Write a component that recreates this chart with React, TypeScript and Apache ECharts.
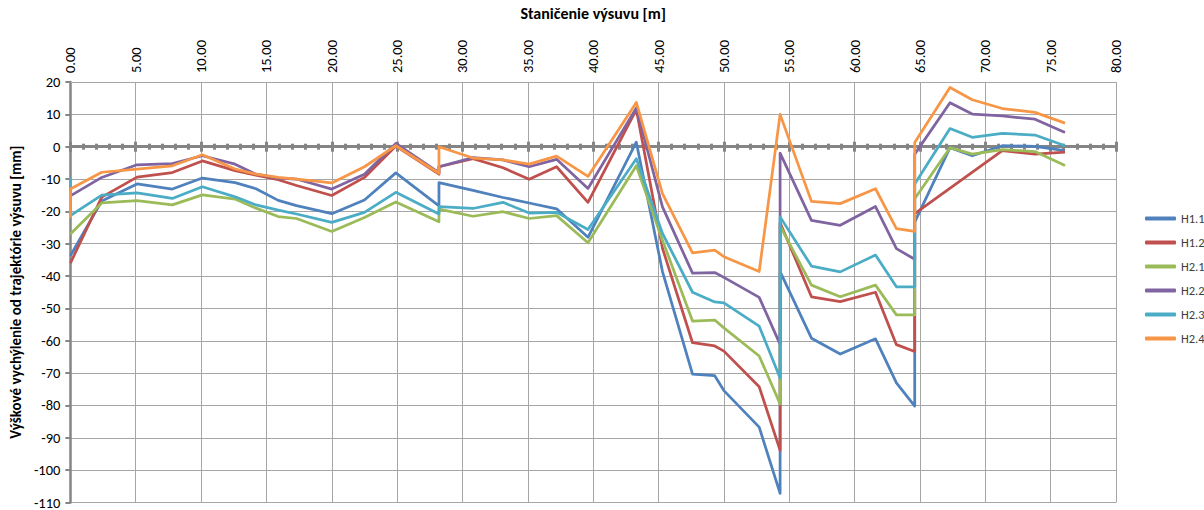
import React, { useEffect, useRef } from "react";
import * as echarts from "echarts";

// Stations along the launch [m] (duplicates = two readings at the same station)
const stations = [
  0, 0, 2.4, 5.1, 7.8, 10.1, 12.6, 14.2, 15.9, 17.3, 20, 22.5, 24.9, 28.2, 28.2,
  30.8, 33.1, 35.1, 37.2, 39.6, 43.3, 45.3, 47.6, 49.3, 50.0, 52.7, 54.3, 54.3,
  56.7, 58.9, 61.6, 63.2, 64.6, 64.6, 67.3, 69.0, 71.3, 73.8, 76.1,
];

const h11 = [
  -33.7, -33.7, -16.8, -11.5, -13.1, -9.7, -11.1, -13, -16.6, -18.2, -20.7, -16.5, -8.1, -18.3, -11.1,
  -13.5, -15.7, -17.4, -19.2, -28, 1.4, -38.6, -70.3, -70.8, -75.4, -86.7, -107.2, -38.6,
  -59.2, -64.1, -59.4, -73, -80.2, -23.3, -0.3, -2.8, 0.3, 0.1, -1.2,
];
const h12: (number | null)[] = [
  -36, -36, -15.6, -9.4, -8, -4.4, -7.4, -8.8, -10.2, -12, -15.1, -9.5, 0.2, -8.5, -6.2,
  -3.7, -6.5, -10.1, -6.2, -17.2, 11.5, -31.4, -60.6, -61.6, -63.2, -74.2, -93.9, -23.5,
  -46.4, -47.9, -45, -61.2, -63.3, -20.7, null, null, -1.2, -2.3, -1.7,
];
const h21 = [
  -27, -27, -17.4, -16.7, -18, -14.9, -16.2, -19, -21.6, -22.2, -26.2, -21.9, -17.1, -23.2, -19.3,
  -21.5, -20.1, -22.2, -21.3, -29.7, -5.9, -28.9, -53.9, -53.6, -56, -64.7, -79.5, -24.5,
  -42.8, -46.4, -42.8, -52, -52, -16.1, -0.3, -2.3, -0.9, -1.5, -5.8,
];
const h22 = [
  -15.2, -15.2, -9.5, -5.6, -5.2, -2.8, -5.4, -8.5, -9.7, -10, -13.1, -8.5, 1, -8, -6.2,
  -3.4, -4.1, -6.2, -3.9, -12.9, 12, -18.6, -39.1, -38.9, -40.4, -46.6, -61.1, -2,
  -22.8, -24.3, -18.5, -31.5, -34.8, -2.3, 13.6, 10.1, 9.5, 8.5, 4.4,
];
const h23 = [
  -9.5, -21.3, -15, -14.3, -16, -12.4, -15.5, -18, -19.6, -20.8, -23.4, -20.3, -14.1, -20.8, -18.5,
  -19.1, -17.2, -20.5, -20.3, -25.6, -3.7, -26.8, -45, -48, -48.3, -55.5, -71.5, -21.7,
  -36.9, -38.7, -33.5, -43.3, -43.3, -11.5, 5.6, 2.9, 4.1, 3.6, 0.3,
];
const h24 = [
  -22, -13.1, -7.9, -6.9, -5.9, -2.5, -6.9, -8.5, -9.5, -10, -11.2, -6.2, 0.3, -8.2, 0,
  -3.5, -4.1, -5.4, -2.9, -9.2, 13.7, -14.5, -32.8, -32, -34, -38.6, 10, 10,
  -16.9, -17.6, -13, -25.3, -26.2, 1.3, 18.3, 14.5, 11.8, 10.6, 7.3,
];

const seriesNames = ["H1.1", "H1.2", "H2.1", "H2.2", "H2.3", "H2.4"];
const seriesValues = [h11, h12, h21, h22, h23, h24];
const seriesColors = ["#4F81BD", "#C0504D", "#9BBB59", "#8064A2", "#4BACC6", "#F79646"];

const FONT = "Carlito, Calibri, Lato, 'Liberation Sans', sans-serif";

export default function App() {
  const ref = useRef<HTMLDivElement>(null);

  useEffect(() => {
    document.body.style.margin = "0";
    if (!ref.current) return;
    const chart = echarts.init(ref.current, undefined, { renderer: "svg" });

    const zeroAxisBase = {
      type: "value",
      position: "bottom",
      min: 0,
      max: 80,
      interval: 5,
      axisLabel: { show: false },
      splitLine: { show: false },
    };

    chart.setOption({
      animation: false,
      textStyle: { fontFamily: FONT },
      grid: { left: 68, right: 88, top: 82, bottom: 3 },
      legend: {
        orient: "vertical",
        left: 1145,
        top: 212,
        padding: 0,
        icon: "roundRect",
        itemWidth: 31,
        itemHeight: 4,
        itemGap: 11,
        textStyle: { fontSize: 12.5, color: "#404040", fontFamily: FONT },
        data: seriesNames,
      },
      xAxis: [
        {
          type: "value",
          position: "top",
          min: 0,
          max: 80,
          interval: 5,
          name: "Staničenie výsuvu [m]",
          nameLocation: "middle",
          nameGap: 61,
          nameTextStyle: { fontSize: 16, fontWeight: "bold", color: "#000", fontFamily: FONT },
          axisLine: { show: true, onZero: false, lineStyle: { color: "#a6a6a6", width: 1 } },
          axisTick: { show: false },
          axisLabel: {
            rotate: -90,
            margin: 9,
            fontSize: 14.5,
            color: "#000",
            fontFamily: FONT,
            formatter: (v: number) => v.toFixed(2),
          },
          splitLine: { show: true, lineStyle: { color: "#a6a6a6", width: 1 } },
        },
        {
          ...zeroAxisBase,
          axisLine: { show: true, onZero: true, onZeroAxisIndex: 0, lineStyle: { color: "#858585", width: 3 } },
          axisTick: { show: true, inside: true, length: 5, lineStyle: { color: "#858585", width: 3 } },
          minorTick: { show: true, splitNumber: 5, length: 3, lineStyle: { color: "#858585", width: 3 } },
        },
        {
          ...zeroAxisBase,
          axisLine: { show: true, onZero: true, onZeroAxisIndex: 0, lineStyle: { color: "#858585", width: 3 } },
          axisTick: { show: true, inside: false, length: 5, lineStyle: { color: "#858585", width: 3 } },
          minorTick: { show: true, splitNumber: 5, length: 3, lineStyle: { color: "#858585", width: 3 } },
        },
      ],
      yAxis: {
        type: "value",
        min: -110,
        max: 20,
        interval: 10,
        name: "Výškové vychýlenie od trajektórie výsuvu [mm]",
        nameLocation: "middle",
        nameGap: 45,
        nameRotate: 90,
        nameTextStyle: { fontSize: 15, fontWeight: "bold", color: "#000", fontFamily: FONT },
        axisLine: { show: true, lineStyle: { color: "#858585", width: 2.5 } },
        axisTick: { show: true, length: 5, lineStyle: { color: "#858585", width: 2 } },
        axisLabel: { fontSize: 14.5, color: "#000", margin: 10, fontFamily: FONT },
        splitLine: { show: true, lineStyle: { color: "#a6a6a6", width: 1 } },
      },
      series: seriesNames.map((name, si) => ({
        name,
        type: "line",
        xAxisIndex: 0,
        symbol: "none",
        color: seriesColors[si],
        lineStyle: { width: 2.75, color: seriesColors[si], join: "round" },
        data: stations
          .map((x, i) => [x, seriesValues[si][i]])
          .filter((p) => p[1] !== null),
      })),
    });

    return () => chart.dispose();
  }, []);

  return <div ref={ref} style={{ width: 1204, height: 510 }} />;
}
